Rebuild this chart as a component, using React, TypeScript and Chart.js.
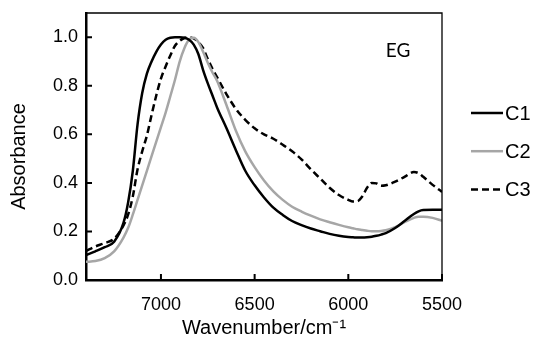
import React, { useEffect, useRef } from 'react';
import { Chart, registerables } from 'chart.js';

Chart.register(...registerables);

// ---- data ----
const wavenumbers = [
  7400, 7350, 7300, 7250, 7200, 7175, 7150, 7125, 7100, 7075, 7050, 7025, 7000,
  6975, 6950, 6925, 6900, 6875, 6850, 6825, 6800, 6775, 6750, 6725, 6700,
  6650, 6600, 6550, 6500, 6450, 6400, 6350, 6300, 6250, 6200, 6150, 6100, 6050, 6000,
  5975, 5950, 5925, 5900, 5875, 5850, 5825, 5800,
  5750, 5700, 5650, 5625, 5600, 5550, 5500,
];

const c1Values = [
  0.103, 0.118, 0.135, 0.158, 0.235, 0.32, 0.45, 0.64, 0.77, 0.85, 0.9, 0.94, 0.97,
  0.99, 0.998, 1.0, 1.0, 0.998, 0.99, 0.97, 0.93, 0.865, 0.81, 0.76, 0.71,
  0.625, 0.535, 0.45, 0.39, 0.34, 0.298, 0.268, 0.243, 0.226, 0.212, 0.201, 0.19, 0.182, 0.177,
  0.176, 0.175, 0.175, 0.176, 0.178, 0.182, 0.187, 0.193,
  0.214, 0.243, 0.272, 0.283, 0.288, 0.289, 0.289,
];

const c2Values = [
  0.075, 0.078, 0.09, 0.118, 0.175, 0.215, 0.27, 0.33, 0.39, 0.45, 0.51, 0.57, 0.63,
  0.69, 0.757, 0.825, 0.9, 0.955, 0.99, 0.998, 0.98, 0.94, 0.895, 0.855, 0.82,
  0.72, 0.615, 0.53, 0.465, 0.41, 0.365, 0.33, 0.302, 0.282, 0.265, 0.25, 0.238, 0.227, 0.217,
  0.213, 0.209, 0.206, 0.203, 0.201, 0.201, 0.202, 0.205,
  0.218, 0.238, 0.256, 0.261, 0.261, 0.256, 0.244,
];

const c3Values = [
  0.12, 0.138, 0.152, 0.17, 0.225, 0.27, 0.345, 0.455, 0.53, 0.595, 0.68, 0.76, 0.83,
  0.88, 0.925, 0.965, 0.985, 0.997, 1.0, 0.995, 0.98, 0.955, 0.91, 0.87, 0.835,
  0.765, 0.705, 0.66, 0.625, 0.6, 0.582, 0.557, 0.53, 0.497, 0.456, 0.418, 0.38, 0.35, 0.33,
  0.323, 0.325, 0.345, 0.38, 0.4, 0.398, 0.388, 0.39,
  0.405, 0.425, 0.445, 0.44, 0.425, 0.392, 0.363,
];

const seriesLabels = ['C1', 'C2', 'C3'];
const xTickValues = [7000, 6500, 6000, 5500];
const yTickValues = [0, 0.2, 0.4, 0.6, 0.8, 1.0];
const xMin = 5500;
const xMax = 7400;
const yMin = 0;
const yMax = 1.1;
const xTitle = 'Wavenumber/cm\u207B\u00B9';
const yTitle = 'Absorbance';
const panelLabel = 'EG';

const FONT = '"Liberation Sans", Arial, sans-serif';

const toPoints = (vals: number[]) => wavenumbers.map((w, i) => ({ x: w, y: vals[i] }));

const decorPlugin = {
  id: 'decor',
  afterDraw(chart: any) {
    const { ctx, chartArea: a, scales } = chart;
    ctx.save();
    // top / right frame
    ctx.strokeStyle = '#000';
    ctx.lineWidth = 1.3;
    ctx.setLineDash([]);
    ctx.beginPath();
    ctx.moveTo(a.left, a.top);
    ctx.lineTo(a.right, a.top);
    ctx.lineTo(a.right, a.bottom);
    ctx.stroke();

    // inward tick marks
    ctx.lineWidth = 2;
    ctx.beginPath();
    scales.x.ticks.forEach((t: any) => {
      const px = scales.x.getPixelForValue(t.value);
      ctx.moveTo(px, a.bottom);
      ctx.lineTo(px, a.bottom - 6);
    });
    scales.y.ticks.forEach((t: any) => {
      const py = scales.y.getPixelForValue(t.value);
      ctx.moveTo(a.left, py);
      ctx.lineTo(a.left + 6, py);
    });
    ctx.stroke();

    // y axis title
    ctx.fillStyle = '#000';
    ctx.font = `20px ${FONT}`;
    ctx.textAlign = 'center';
    ctx.textBaseline = 'middle';
    ctx.save();
    ctx.translate(19, (a.top + a.bottom) / 2 + 10);
    ctx.rotate(-Math.PI / 2);
    ctx.fillText(yTitle, 0, 0);
    ctx.restore();

    // panel label
    ctx.font = `19px Lato, "Open Sans", sans-serif`;
    ctx.textAlign = 'center';
    ctx.fillText(panelLabel, a.right - 44, a.top + 38);

    // legend
    const lx = a.right + 29;
    const ly0 = a.top + 100;
    const gap = 38.2;
    chart.data.datasets.forEach((ds: any, i: number) => {
      const y = ly0 + i * gap;
      ctx.strokeStyle = ds.borderColor;
      ctx.lineWidth = 2.5;
      ctx.setLineDash(ds.borderDash || []);
      ctx.beginPath();
      ctx.moveTo(lx, y);
      ctx.lineTo(lx + 32, y);
      ctx.stroke();
      ctx.setLineDash([]);
      ctx.fillStyle = '#000';
      ctx.font = `20px ${FONT}`;
      ctx.textAlign = 'left';
      ctx.textBaseline = 'middle';
      ctx.fillText(ds.label, lx + 34, y + 1);
    });
    ctx.restore();
  },
};

export default function App() {
  const ref = useRef<HTMLCanvasElement | null>(null);

  useEffect(() => {
    if (!ref.current) return;
    const colors = ['#000000', '#a6a6a6', '#000000'];
    const dashes = [[], [], [7, 4]];
    const values = [c1Values, c2Values, c3Values];
    const chart = new Chart(ref.current, {
      type: 'line',
      data: {
        datasets: seriesLabels.map((label, i) => ({
          label,
          data: toPoints(values[i]),
          borderColor: colors[i],
          backgroundColor: colors[i],
          borderWidth: 2.5,
          borderDash: dashes[i],
          pointRadius: 0,
          fill: false,
          cubicInterpolationMode: 'monotone' as const,
        })),
      },
      options: {
        responsive: false,
        animation: false,
        layout: { padding: { top: 13, right: 95, left: 0, bottom: 0 } },
        plugins: {
          legend: { display: false },
          tooltip: { enabled: false },
        },
        scales: {
          x: {
            type: 'linear',
            reverse: true,
            min: xMin,
            max: xMax,
            afterBuildTicks: (s: any) => {
              s.ticks = xTickValues.map((v) => ({ value: v }));
            },
            afterFit: (s: any) => {
              s.height = 60;
              s.paddingLeft = 0;
              s.paddingRight = 0;
            },
            grid: { display: false, drawTicks: false },
            border: { display: true, color: '#000', width: 2.5 },
            ticks: {
              padding: 14,
              color: '#000',
              font: { family: FONT, size: 18 },
              maxRotation: 0,
              callback: (v: any) => String(v),
            },
            title: {
              display: true,
              text: xTitle,
              color: '#000',
              font: { family: FONT, size: 20 },
              padding: { top: 0, bottom: 0 },
            },
          },
          y: {
            type: 'linear',
            min: yMin,
            max: yMax,
            afterBuildTicks: (s: any) => {
              s.ticks = yTickValues.map((v) => ({ value: v }));
            },
            afterFit: (s: any) => {
              s.width = 86;
              s.paddingTop = 0;
              s.paddingBottom = 0;
            },
            grid: { display: false, drawTicks: false },
            border: { display: true, color: '#000', width: 2.5 },
            ticks: {
              padding: 8,
              color: '#000',
              font: { family: FONT, size: 18 },
              callback: (v: any) => Number(v).toFixed(1),
            },
          },
        },
      },
      plugins: [decorPlugin],
    } as any);
    return () => chart.destroy();
  }, []);

  return (
    <div style={{ position: 'absolute', left: 0, top: 0, width: 537, height: 340, background: '#fff' }}>
      <canvas ref={ref} width={537} height={340} />
    </div>
  );
}
